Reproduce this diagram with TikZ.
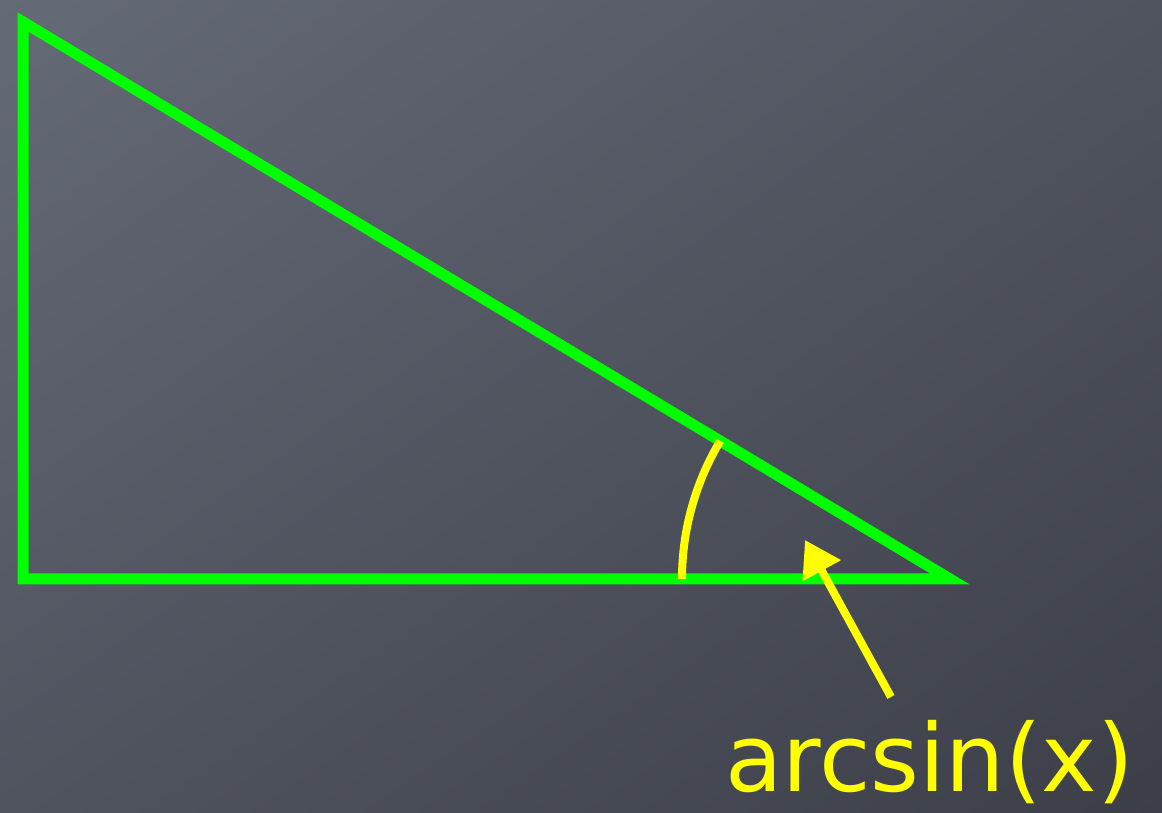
\documentclass[tikz,border=0pt]{standalone}
\usepackage{fontspec}
\setmainfont{DejaVu Sans}
\usetikzlibrary{arrows.meta,shadings}
\definecolor{BoardLight}{HTML}{656A77}
\definecolor{BoardMid}{HTML}{50545F}
\definecolor{BoardDark}{HTML}{3C3F48}
\definecolor{ChalkGreen}{HTML}{00FF00}
\definecolor{ChalkYellow}{HTML}{FFFF00}
\begin{document}
\begin{tikzpicture}[
        x=0.03cm,y=0.03cm,
        side/.style={ChalkGreen,line width=11*0.03cm,line join=miter},
        angle/.style={ChalkYellow,line width=8*0.03cm},
        pointer/.style={-{Triangle[length=1.05cm,width=1.25cm]},ChalkYellow,line width=8*0.03cm},
        caption/.style={ChalkYellow,font=\fontsize{80}{90}\selectfont,inner sep=0pt,anchor=base west}
      ]
        \shade[upper left=BoardLight,upper right=BoardMid,lower left=BoardMid,lower right=BoardDark]
          (0,0) rectangle (1162,813);
        \useasboundingbox (0,0) rectangle (1162,813);
        % triangle
        \coordinate (top) at (23,791);
        \coordinate (corner) at (23,234);
        \coordinate (tip) at (950,234);
        \draw[side] (top)--(corner)--(tip)--cycle;
        % angle mark at the tip
        \draw[angle] ([xshift=-268*0.03cm]tip) arc[start angle=180,end angle=149,radius=268];
        % label and arrow
        \node[caption] (label) at (725,21) {arcsin(x)};
        \coordinate (tail) at (891,116);
        \coordinate (head) at (805,273);
        \draw[pointer] (tail)--(head);
      \end{tikzpicture}
\end{document}
